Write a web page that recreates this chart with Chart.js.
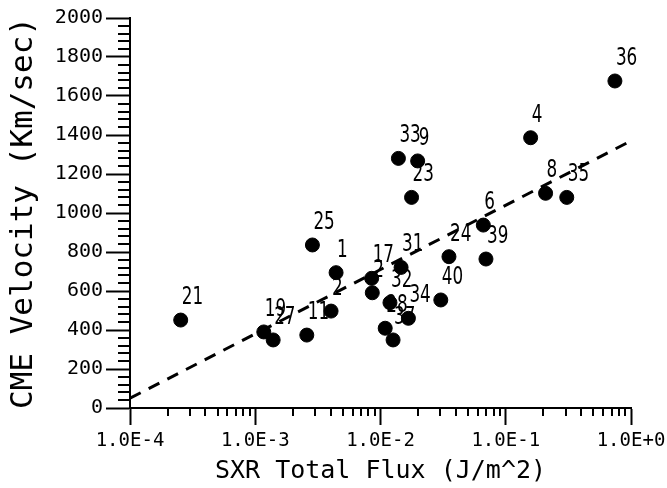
<!DOCTYPE html>
<html>
<head>
<meta charset="utf-8">
<script src="https://cdn.jsdelivr.net/npm/chart.js@4.4.0/dist/chart.umd.min.js"></script>
<style>
  html, body { margin: 0; padding: 0; background: #fff; }
  #wrap { width: 667px; height: 488px; }
</style>
</head>
<body>
<div id="wrap"><canvas id="chart" width="667" height="488"></canvas></div>
<script>
// event numbers, SXR flux (J/m^2) and CME speed (km/s)
const eventIds = ['21', '19', '27', '11', '25', '2', '1', '17', '2', '31', '32', '28', '37', '34',
  '33', '9', '23', '40', '24', '6', '39', '4', '8', '35', '36'];
const sxrFlux = [2.54e-4, 1.17e-3, 1.39e-3, 2.58e-3, 2.86e-3, 4.03e-3, 4.42e-3, 8.5e-3, 8.6e-3,
  1.46e-2, 1.19e-2, 1.09e-2, 1.26e-2, 1.67e-2, 1.39e-2, 1.98e-2, 1.77e-2, 3.03e-2, 3.52e-2,
  6.62e-2, 6.95e-2, 0.158, 0.208, 0.307, 0.744];
const cmeVelocity = [451, 390, 349, 374, 836, 497, 694, 665, 591, 721, 540, 409, 349, 460,
  1280, 1267, 1080, 554, 776, 938, 764, 1386, 1101, 1080, 1677];

// dashed regression line end points
const fitFlux = [1e-4, 1];
const fitVelocity = [50, 1370];

const monoFont = 'DejaVu Sans Mono';

const isDecade = (v) => Math.abs(Math.log10(v) - Math.round(Math.log10(v))) < 1e-6;

// Event numbers, drawn before the dots so the dots can cover them.
// The original uses a tall narrow face, so squeeze DejaVu Sans sideways.
const pointLabelsPlugin = {
  id: 'pointLabels',
  beforeDatasetsDraw: (chart) => {
    const { ctx } = chart;
    const meta = chart.getDatasetMeta(0);
    ctx.save();
    ctx.fillStyle = '#000';
    ctx.font = '24px "DejaVu Sans"';
    ctx.textAlign = 'left';
    ctx.textBaseline = 'alphabetic';
    meta.data.forEach((el, i) => {
      ctx.save();
      ctx.translate(el.x + 1, el.y - 16);
      ctx.scale(0.7, 1);
      ctx.fillText(eventIds[i], 0, 0);
      ctx.restore();
    });
    ctx.restore();
  },
};

// Short minor ticks on both axes
const minorTicksPlugin = {
  id: 'minorTicks',
  afterDraw: (chart) => {
    const { ctx, scales } = chart;
    const xs = scales.x;
    const ys = scales.y;
    ctx.save();
    ctx.strokeStyle = '#000';
    ctx.lineWidth = 2;
    ctx.beginPath();
    for (let e = -4; e < 0; e++) {
      for (let k = 2; k <= 9; k++) {
        const px = Math.round(xs.getPixelForValue(k * Math.pow(10, e)));
        ctx.moveTo(px, ys.bottom);
        ctx.lineTo(px, ys.bottom + 8);
      }
    }
    for (let v = 0; v <= 2000; v += 40) {
      if (v % 200 === 0) continue;
      const py = Math.round(ys.getPixelForValue(v));
      ctx.moveTo(xs.left - 12, py);
      ctx.lineTo(xs.left, py);
    }
    ctx.stroke();
    ctx.restore();
  },
};

new Chart(document.getElementById('chart'), {
  type: 'scatter',
  data: {
    datasets: [
      {
        data: sxrFlux.map((f, i) => ({ x: f, y: cmeVelocity[i] })),
        backgroundColor: '#000',
        borderColor: '#000',
        pointRadius: 7,
        pointHoverRadius: 7,
      },
      {
        type: 'line',
        data: fitFlux.map((f, i) => ({ x: f, y: fitVelocity[i] })),
        borderColor: '#000',
        borderWidth: 3,
        borderDash: [12, 9],
        pointRadius: 0,
        fill: false,
      },
    ],
  },
  options: {
    responsive: false,
    animation: false,
    devicePixelRatio: 1,
    layout: { padding: { top: 18, right: 36, left: 0, bottom: 0 } },
    plugins: {
      legend: { display: false },
      tooltip: { enabled: false },
    },
    scales: {
      x: {
        type: 'logarithmic',
        min: 1e-4,
        max: 1,
        afterFit: (scale) => {
          scale.height = 80;
          scale.paddingLeft = 0;
          scale.paddingRight = 0;
        },
        border: { display: true, color: '#000', width: 2 },
        grid: {
          drawOnChartArea: false,
          tickLength: 17,
          tickWidth: 2,
          tickColor: (c) => (c.tick && isDecade(c.tick.value) ? '#000' : 'rgba(0,0,0,0)'),
        },
        ticks: {
          autoSkip: false,
          maxRotation: 0,
          padding: 5,
          color: '#000',
          font: { family: monoFont, size: 19 },
          callback: (v) => {
            if (!isDecade(v)) return '';
            const e = Math.round(Math.log10(v));
            return '1.0E' + (e >= 0 ? '+' : '') + e;
          },
        },
        title: {
          display: true,
          text: 'SXR Total Flux (J/m^2)',
          color: '#000',
          font: { family: monoFont, size: 25 },
          padding: { top: 0, bottom: 2 },
        },
      },
      y: {
        min: 0,
        max: 2000,
        afterFit: (scale) => { scale.width = 130; },
        border: { display: true, color: '#000', width: 2 },
        grid: {
          drawOnChartArea: false,
          tickLength: 24,
          tickWidth: 2,
          tickColor: '#000',
        },
        ticks: {
          stepSize: 200,
          autoSkip: false,
          padding: 3,
          color: '#000',
          font: { family: monoFont, size: 20 },
          callback: (v) => String(v),
        },
        title: {
          display: true,
          text: 'CME Velocity (Km/sec)',
          color: '#000',
          font: { family: monoFont, size: 31 },
          padding: { top: 5, bottom: 0 },
        },
      },
    },
  },
  plugins: [pointLabelsPlugin, minorTicksPlugin],
});
</script>
</body>
</html>
